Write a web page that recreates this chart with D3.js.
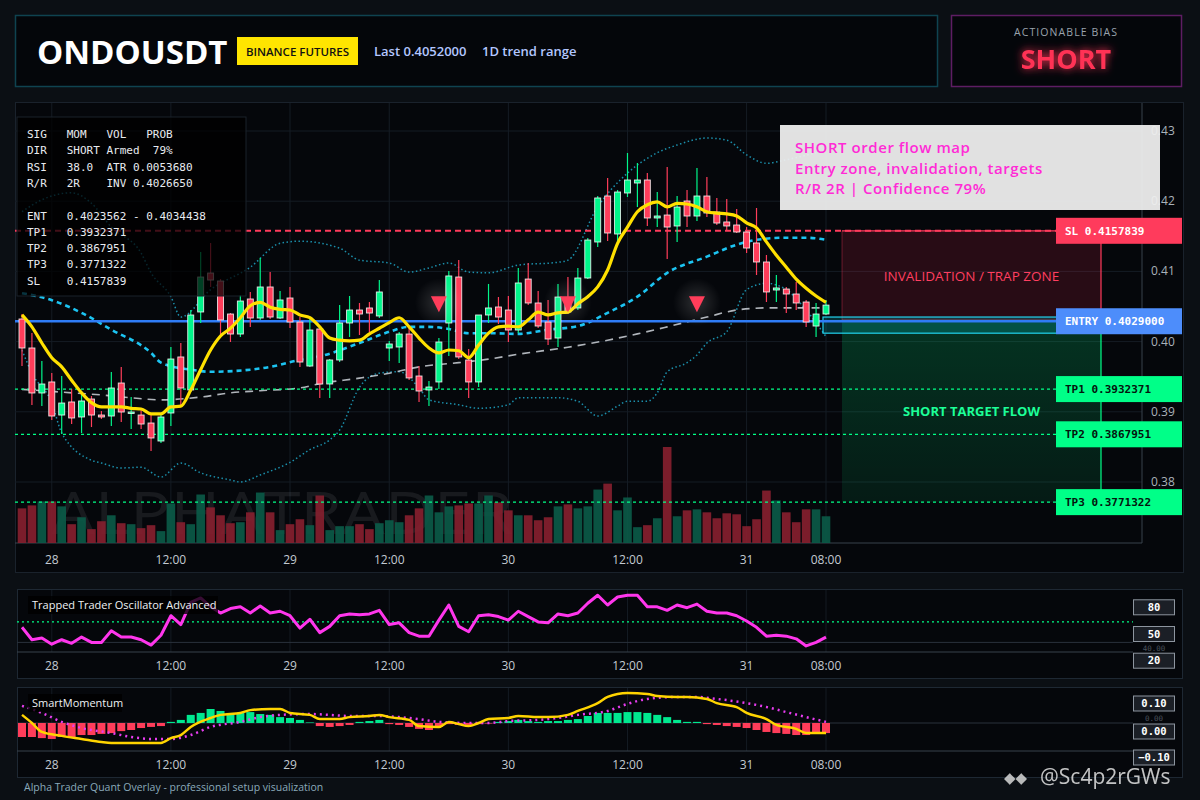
<!DOCTYPE html>
<html>
<head>
<meta charset="utf-8">
<script src="https://cdn.jsdelivr.net/npm/d3@7"></script>
<style>
  html, body { margin: 0; padding: 0; background: #0b0f14; }
  svg { display: block; }
  text { font-family: "Open Sans", "DejaVu Sans", sans-serif; }
  .mono { font-family: "DejaVu Sans Mono", monospace; }
</style>
</head>
<body>
<svg id="chart" width="1200" height="800"></svg>
<script>
// data - hourly candles, 27 21:00 -> 31 08:00
const opens = [0.40322,0.39909,0.39268,0.39425,0.38954,0.39140,0.38926,0.39182,0.38954,0.38940,
  0.39410,0.38983,0.38954,0.38840,0.38584,0.38983,0.39781,0.39311,0.40422,0.40977,
  0.40863,0.40393,0.40108,0.40607,0.40336,0.40778,0.40336,0.40621,0.40279,0.39652,
  0.40180,0.39396,0.39738,0.40265,0.40450,0.40479,0.40365,0.39909,0.39923,0.40108,
  0.39510,0.39311,0.39425,0.40265,0.40920,0.39738,0.39425,0.40379,0.40493,0.40450,
  0.40165,0.40891,0.40550,0.40279,0.40051,0.40621,0.40479,0.40906,0.41419,0.42074,
  0.41533,0.42117,0.42259,0.42302,0.41761,0.41803,0.41647,0.42003,0.41789,0.42074,
  0.41846,0.41704,0.41661,0.41561,0.41405,0.41134,0.40735,0.40749,0.40678,0.40564,
  0.40222,0.40393];
const highs = [0.40393,0.40123,0.39724,0.39553,0.39510,0.39325,0.39268,0.39225,0.39011,0.39567,
  0.39638,0.39211,0.39026,0.38969,0.38954,0.39923,0.39980,0.40450,0.41276,0.41405,
  0.40891,0.40407,0.40664,0.40707,0.41191,0.40992,0.40721,0.40778,0.40350,0.40322,
  0.40208,0.39752,0.40521,0.40650,0.40550,0.40564,0.40877,0.40009,0.40137,0.40194,
  0.39652,0.39439,0.40051,0.41006,0.41162,0.39895,0.40379,0.40821,0.40635,0.40650,
  0.41048,0.41120,0.40721,0.40593,0.40821,0.40920,0.41048,0.41476,0.42074,0.42330,
  0.42160,0.42687,0.42544,0.42402,0.42131,0.42487,0.42074,0.42160,0.42473,0.42345,
  0.42046,0.42031,0.41889,0.41632,0.41903,0.41234,0.40949,0.40778,0.40849,0.40593,
  0.40550,0.40593];
const lows = [0.39652,0.39097,0.39083,0.38883,0.38684,0.38826,0.38698,0.38783,0.38897,0.38798,
  0.38855,0.38755,0.38755,0.38442,0.38556,0.38798,0.39068,0.39282,0.40265,0.40778,
  0.40094,0.39994,0.40066,0.40208,0.40308,0.40322,0.40322,0.40194,0.39638,0.39638,
  0.39197,0.39197,0.39709,0.40066,0.40094,0.40137,0.40336,0.39724,0.39695,0.39453,
  0.39140,0.39083,0.39325,0.39795,0.39752,0.39197,0.39353,0.40265,0.40251,0.39994,
  0.40123,0.40521,0.40194,0.39952,0.39923,0.40393,0.40450,0.40891,0.41348,0.41433,
  0.41405,0.42060,0.41917,0.41647,0.41632,0.41177,0.41419,0.41632,0.41718,0.41775,
  0.41661,0.41590,0.41547,0.41262,0.40949,0.40564,0.40564,0.40407,0.40450,0.40208,
  0.40066,0.40379];
const closes = [0.39909,0.39268,0.39396,0.38940,0.39125,0.38912,0.39154,0.38954,0.38926,0.39339,
  0.38997,0.38997,0.38826,0.38627,0.38926,0.39752,0.39339,0.40379,0.40920,0.40877,
  0.40308,0.40108,0.40578,0.40336,0.40778,0.40350,0.40593,0.40279,0.39709,0.40165,
  0.39396,0.39738,0.40265,0.40450,0.40393,0.40407,0.40707,0.39966,0.40108,0.39482,
  0.39296,0.39353,0.39994,0.40935,0.39781,0.39425,0.40379,0.40479,0.40350,0.40165,
  0.40835,0.40550,0.40222,0.40037,0.40635,0.40422,0.40906,0.41447,0.42046,0.41547,
  0.42131,0.42302,0.42302,0.41761,0.41789,0.41632,0.41917,0.41789,0.42074,0.41832,
  0.41689,0.41647,0.41561,0.41333,0.41134,0.40707,0.40764,0.40678,0.40550,0.40279,
  0.40393,0.40520];
// volume, 10k contracts
const volumes = [35,38,42,42,37,19,26,14,22,28,20,19,15,18,12,40,21,19,49,36,
  28,20,21,31,51,31,13,19,24,18,48,13,17,17,19,14,20,23,21,28,
  35,48,31,37,38,40,40,48,41,33,28,28,23,26,37,39,35,37,54,60,
  33,46,16,18,25,97,27,33,34,31,25,30,29,17,24,53,43,31,21,34,
  34,27];
const ema = [0.4038,0.4021,0.3998,0.3977,0.3964,0.3945,0.3927,0.3913,0.3907,0.3907,
  0.3907,0.3905,0.3904,0.3897,0.3897,0.3907,0.3908,0.3931,0.3960,0.3988,
  0.4008,0.4019,0.4034,0.4051,0.4056,0.4049,0.4046,0.4045,0.4038,0.4034,
  0.4021,0.4005,0.4002,0.4001,0.4002,0.4011,0.4019,0.4027,0.4034,0.4021,
  0.4005,0.3991,0.3984,0.3988,0.3987,0.3977,0.3995,0.4012,0.4021,0.4022,
  0.4021,0.4031,0.4042,0.4038,0.4041,0.4042,0.4054,0.4064,0.4078,0.4102,
  0.4140,0.4163,0.4185,0.4195,0.4199,0.4192,0.4197,0.4196,0.4192,0.4185,
  0.4183,0.4182,0.4179,0.4169,0.4162,0.4142,0.4123,0.4106,0.4089,0.4076,
  0.4065,0.4056];
// [candle index, price]
const maMid = [[0,0.4069],[3,0.4059],[6,0.4041],[9,0.4017],[13,0.3984],[14,0.3970],[17,0.3960],
  [19,0.3957],[23,0.3960],[25,0.3964],[28,0.3974],[30,0.3979],[34,0.3998],[37,0.4014],
  [39,0.4021],[41,0.4021],[43,0.4018],[45,0.4012],[47,0.4012],[50,0.4011],[53,0.4017],
  [56,0.4022],[59,0.4041],[62,0.4064],[65,0.4098],[69,0.4121],[72,0.4138],[74,0.4145],
  [77,0.4148],[79,0.4148],[81,0.4145]];
const maSlow = [[0,0.3932],[4,0.3928],[8,0.3924],[11,0.3920],[14,0.3917],[18,0.3921],[21,0.3927],
  [24,0.3930],[28,0.3934],[30,0.3940],[34,0.3948],[37,0.3955],[40,0.3964],[44,0.3970],
  [47,0.3975],[50,0.3982],[55,0.3992],[59,0.4002],[62,0.4011],[65,0.4021],[69,0.4035],
  [72,0.4045],[75,0.4048],[79,0.4048],[81,0.4048]];
const bbUpper = [[0,0.4185],[2,0.4202],[5,0.4212],[7,0.4197],[9,0.4163],[12,0.4126],[13,0.4098],
  [15,0.4064],[16,0.4035],[19,0.4074],[23,0.4106],[26,0.4140],[28,0.4143],[32,0.4133],
  [34,0.4116],[37,0.4112],[39,0.4099],[41,0.4105],[43,0.4112],[45,0.4099],[47,0.4098],
  [50,0.4109],[54,0.4113],[55,0.4116],[58,0.4192],[61,0.4240],[64,0.4269],[66,0.4280],
  [69,0.4290],[71,0.4287],[73,0.4266],[75,0.4254],[77,0.4259],[81,0.4273]];
const bbLower = [[0,0.3988],[1,0.3955],[3,0.3913],[4,0.3870],[7,0.3831],[8,0.3827],[10,0.3820],
  [12,0.3821],[14,0.3807],[16,0.3827],[18,0.3813],[21,0.3803],[22,0.3800],[24,0.3810],
  [27,0.3828],[29,0.3846],[31,0.3860],[32,0.3874],[34,0.3935],[36,0.3955],[38,0.3957],
  [40,0.3934],[41,0.3917],[44,0.3910],[46,0.3905],[49,0.3910],[50,0.3920],[54,0.3920],
  [56,0.3915],[58,0.3894],[60,0.3908],[61,0.3915],[63,0.3915],[64,0.3927],[65,0.3957],
  [67,0.3970],[68,0.3981],[69,0.3998],[71,0.4014],[73,0.4074],[75,0.4083],[77,0.4074],
  [79,0.4045],[81,0.4007]];
const shortSignals = [42, 55, 68];
const signalPrice = 0.4056;

const oscValues = [57,43,45,38,43,39,46,40,40,53,46,46,43,37,48,70,60,85,90,80,
  73,78,80,73,81,73,75,70,56,66,51,58,70,72,71,72,76,60,62,51,
  47,47,65,82,58,52,70,71,69,65,75,69,63,62,72,70,73,84,93,82,
  91,93,93,80,80,76,82,79,83,75,73,73,70,64,57,47,48,47,44,36,
  40,46];
const oscLevel = 63;
const oscAxis = [80, 50, 20];

const momHist = [-0.050,-0.050,-0.054,-0.057,-0.050,-0.050,-0.043,-0.043,-0.039,-0.036,
  -0.029,-0.025,-0.018,-0.014,-0.011,0.004,0.011,0.029,0.036,0.050,
  0.043,0.036,0.036,0.039,0.032,0.029,0.021,0.018,0.011,0.002,
  -0.011,-0.014,-0.011,-0.007,0.004,0.007,0.011,-0.004,-0.007,-0.014,
  -0.021,-0.025,-0.014,-0.004,-0.007,-0.007,-0.004,-0.002,0.004,0.007,
  0.011,0.007,0.004,0.007,0.007,0.011,0.014,0.025,0.036,0.036,
  0.036,0.039,0.039,0.036,0.029,0.021,0.011,0.004,0.004,-0.004,
  -0.007,-0.011,-0.014,-0.018,-0.025,-0.032,-0.036,-0.039,-0.043,-0.043,
  -0.039,-0.036];
const momLine = [[0,0.029],[1,0.000],[2,-0.032],[4,-0.046],[6,-0.057],[8,-0.068],[9,-0.071],
  [11,-0.071],[12,-0.071],[14,-0.071],[15,-0.054],[16,-0.043],[17,-0.014],[19,0.018],
  [20,0.029],[22,0.036],[23,0.046],[25,0.050],[26,0.050],[27,0.036],[29,0.029],[30,0.014],
  [32,0.014],[33,0.021],[35,0.025],[36,0.029],[37,0.021],[39,0.011],[40,-0.011],[42,-0.014],
  [43,0.004],[44,-0.004],[45,-0.011],[46,0.000],[47,0.014],[49,0.018],[50,0.025],[52,0.021],
  [53,0.021],[55,0.029],[56,0.043],[58,0.071],[59,0.093],[61,0.107],[63,0.104],[64,0.096],
  [66,0.093],[67,0.093],[69,0.086],[70,0.071],[72,0.057],[73,0.036],[75,0.014],[76,-0.007],
  [78,-0.021],[79,-0.036],[81,-0.036]];
const momSignal = [[0,0.061],[2,0.036],[4,0.004],[6,-0.018],[9,-0.036],[11,-0.050],[13,-0.057],
  [15,-0.057],[17,-0.043],[19,-0.014],[22,0.004],[24,0.021],[26,0.029],[29,0.032],[31,0.029],
  [33,0.025],[36,0.025],[38,0.021],[40,0.014],[42,0.004],[45,0.000],[47,0.000],[49,0.007],
  [52,0.011],[54,0.018],[56,0.029],[59,0.043],[61,0.068],[63,0.086],[66,0.093],[68,0.093],
  [70,0.086],[73,0.071],[75,0.057],[77,0.039],[79,0.021],[81,0.004]];
const momAxis = [0.10, 0.00, -0.10];

const tickIdx = [3, 15, 27, 37, 49, 61, 73, 81];
const tickLabels = ["28", "12:00", "29", "12:00", "30", "12:00", "31", "08:00"];
const priceTicks = [0.43, 0.42, 0.41, 0.40, 0.39, 0.38];

const levelNames = ["SL", "ENTRY", "TP1", "TP2", "TP3"];
const levelPrices = [0.4157839, 0.4029000, 0.3932371, 0.3867951, 0.3771322];
const entryBand = [0.4012, 0.4035];

const infoLines = [
  "SIG   MOM   VOL   PROB",
  "DIR   SHORT Armed  79%",
  "RSI   38.0  ATR 0.0053680",
  "R/R   2R    INV 0.4026650",
  "",
  "ENT   0.4023562 - 0.4034438",
  "TP1   0.3932371",
  "TP2   0.3867951",
  "TP3   0.3771322",
  "SL    0.4157839"
];
const noteLines = ["SHORT order flow map", "Entry zone, invalidation, targets", "R/R 2R | Confidence 79%"];

const GREEN = '#00f58a', RED = '#ff3d5a';

// scales
const x = d3.scaleLinear().domain([0, closes.length - 1]).range([22, 826]);
const y = d3.scaleLinear().domain([0.38, 0.43]).range([482, 131]);
const yv = d3.scaleLinear().domain([0, d3.max(volumes)]).range([543, 447]);
const yo = d3.scaleLinear().domain([0, 100]).range([678, 589]);
const ym = d3.scaleLinear().domain([-0.1, 0.1]).range([751, 695]);
const plotL = 15, plotR = 1142, plotT = 103, plotB = 543;

const candles = closes.map((c, i) => ({i: i, o: opens[i], h: highs[i], l: lows[i], c: c, v: volumes[i]}));
const up = d => d.c >= d.o;

const svg = d3.select('#chart');
const defs = svg.append('defs');

const glow = defs.append('filter').attr('id', 'glowRed')
  .attr('x', '-40%').attr('y', '-60%').attr('width', '180%').attr('height', '220%');
glow.append('feGaussianBlur').attr('stdDeviation', 4).attr('result', 'b');
const fm = glow.append('feMerge');
fm.append('feMergeNode').attr('in', 'b');
fm.append('feMergeNode').attr('in', 'SourceGraphic');

const tg = defs.append('radialGradient').attr('id', 'triGlow');
tg.append('stop').attr('offset', '0%').attr('stop-color', '#ffffff').attr('stop-opacity', 0.16);
tg.append('stop').attr('offset', '100%').attr('stop-color', '#ffffff').attr('stop-opacity', 0);

const gz = defs.append('linearGradient').attr('id', 'greenZone')
  .attr('x1', 0).attr('y1', 0).attr('x2', 0).attr('y2', 1);
gz.append('stop').attr('offset', '0%').attr('stop-color', '#00ff88').attr('stop-opacity', 0.18);
gz.append('stop').attr('offset', '100%').attr('stop-color', '#00ff88').attr('stop-opacity', 0.08);

// background + panels
svg.append('rect').attr('width', 1200).attr('height', 800).attr('fill', '#0b0f14');
svg.append('rect').attr('x', 15.5).attr('y', 15.5).attr('width', 922).attr('height', 71)
  .attr('fill', '#04060a').attr('stroke', '#0f4350').attr('stroke-width', 1.5);
svg.append('rect').attr('x', 951.5).attr('y', 15.5).attr('width', 230).attr('height', 71)
  .attr('fill', '#04060a').attr('stroke', '#5e1d63').attr('stroke-width', 1.5);
svg.append('rect').attr('x', 15.5).attr('y', 102.5).attr('width', 1168).attr('height', 470)
  .attr('fill', '#05070b').attr('stroke', '#1a222c');
svg.append('rect').attr('x', 17.5).attr('y', 589.5).attr('width', 1165).attr('height', 89)
  .attr('fill', '#05070b').attr('stroke', '#1e2833');
svg.append('rect').attr('x', 17.5).attr('y', 687.5).attr('width', 1165).attr('height', 90)
  .attr('fill', '#05070b').attr('stroke', '#1e2833');

// header
svg.append('text').attr('x', 37).attr('y', 64).attr('font-size', 33).attr('font-weight', 700)
  .attr('fill', '#ffffff').text('ONDOUSDT');
svg.append('rect').attr('x', 237).attr('y', 37).attr('width', 121).attr('height', 28).attr('fill', '#ffe500');
svg.append('text').attr('x', 297.5).attr('y', 55.5).attr('text-anchor', 'middle').attr('font-size', 11.5)
  .attr('font-weight', 600).attr('fill', '#111111').text('BINANCE FUTURES');
svg.append('text').attr('x', 374).attr('y', 56).attr('font-size', 13).attr('font-weight', 600)
  .attr('fill', '#b3c6ff').text('Last ' + d3.format('.7f')(closes[closes.length - 1]));
svg.append('text').attr('x', 482).attr('y', 56).attr('font-size', 13).attr('font-weight', 600)
  .attr('fill', '#b3c6ff').text('1D trend range');
svg.append('text').attr('x', 1066).attr('y', 35.5).attr('text-anchor', 'middle').attr('font-size', 10.5)
  .attr('letter-spacing', 1.1).attr('fill', '#9aa3ad').text('ACTIONABLE BIAS');
svg.append('text').attr('x', 1066).attr('y', 69).attr('text-anchor', 'middle').attr('font-size', 27)
  .attr('font-weight', 700).attr('fill', '#ff3355').attr('filter', 'url(#glowRed)').text('SHORT');

// grid
const grid = svg.append('g').attr('stroke', '#151c24').attr('stroke-width', 1);
grid.selectAll('line.h').data(priceTicks).join('line')
  .attr('x1', plotL).attr('x2', plotR).attr('y1', d => y(d)).attr('y2', d => y(d));
grid.selectAll('line.v').data(tickIdx).join('line')
  .attr('x1', d => x(d)).attr('x2', d => x(d)).attr('y1', plotT).attr('y2', plotB);
svg.append('line').attr('x1', plotL).attr('x2', plotR).attr('y1', plotB).attr('y2', plotB).attr('stroke', '#39424d');
svg.append('line').attr('x1', plotR).attr('x2', plotR).attr('y1', plotT).attr('y2', plotB).attr('stroke', '#39424d');

// watermark + volume
svg.append('text').attr('x', 52).attr('y', 534).attr('font-family', 'Lato, sans-serif').attr('font-size', 58)
  .attr('textLength', 461).attr('lengthAdjust', 'spacingAndGlyphs')
  .attr('fill', 'rgba(255,255,255,0.08)').text('ALPHATRADER');
svg.append('g').selectAll('rect').data(candles).join('rect')
  .attr('x', d => x(d.i) - 4.3).attr('width', 8.6)
  .attr('y', d => yv(d.v)).attr('height', d => plotB - yv(d.v))
  .attr('fill', d => up(d) ? '#0b5a48' : '#86202f').attr('opacity', 0.92);

// bands and averages
const pl = d3.line().x(d => x(d[0])).y(d => y(d[1])).curve(d3.curveMonotoneX);
svg.append('path').attr('d', pl(bbUpper)).attr('fill', 'none').attr('stroke', '#1b8fab')
  .attr('stroke-width', 1.5).attr('stroke-dasharray', '1.5,2.5');
svg.append('path').attr('d', pl(bbLower)).attr('fill', 'none').attr('stroke', '#1b8fab')
  .attr('stroke-width', 1.5).attr('stroke-dasharray', '1.5,2.5');
svg.append('path').attr('d', pl(maSlow)).attr('fill', 'none').attr('stroke', '#cfd4da')
  .attr('stroke-width', 1.6).attr('stroke-dasharray', '8,6').attr('opacity', 0.85);
svg.append('path').attr('d', pl(maMid)).attr('fill', 'none').attr('stroke', '#1cc4f2')
  .attr('stroke-width', 2.6).attr('stroke-dasharray', '5,4');

// zones
const zoneL = x(closes.length - 1) + 16, zoneR = 1101;
const ySL = y(levelPrices[0]), yEn = y(levelPrices[1]), yTP3 = y(levelPrices[4]);
svg.append('rect').attr('x', zoneL).attr('y', ySL).attr('width', zoneR - zoneL).attr('height', yEn - ySL - 1)
  .attr('fill', 'rgba(255,45,85,0.14)');
svg.append('rect').attr('x', zoneL).attr('y', yEn + 1).attr('width', zoneR - zoneL).attr('height', yTP3 - yEn - 1)
  .attr('fill', 'url(#greenZone)');
svg.append('line').attr('x1', zoneL).attr('x2', zoneR).attr('y1', ySL).attr('y2', ySL).attr('stroke', '#ff3b5c').attr('stroke-width', 1.2);
svg.append('line').attr('x1', zoneL).attr('x2', zoneR).attr('y1', yEn - 1).attr('y2', yEn - 1).attr('stroke', '#ff3b5c').attr('stroke-width', 1);
svg.append('line').attr('x1', zoneL).attr('x2', zoneL).attr('y1', ySL).attr('y2', yEn).attr('stroke', 'rgba(255,59,92,0.35)');
svg.append('line').attr('x1', zoneR).attr('x2', zoneR).attr('y1', ySL).attr('y2', yEn - 1).attr('stroke', '#ff3b5c').attr('stroke-width', 1.2);
svg.append('line').attr('x1', zoneR).attr('x2', zoneR).attr('y1', yEn + 1).attr('y2', yTP3).attr('stroke', '#00ff88').attr('stroke-width', 1.2);
svg.append('rect').attr('x', x(closes.length - 1) - 3).attr('y', y(entryBand[1]))
  .attr('width', zoneR - x(closes.length - 1) + 3).attr('height', y(entryBand[0]) - y(entryBand[1]))
  .attr('fill', 'rgba(0,190,200,0.22)').attr('stroke', '#22d3ee').attr('stroke-width', 1.2);
svg.append('text').attr('x', (zoneL + zoneR) / 2).attr('y', (ySL + yEn) / 2 + 5).attr('text-anchor', 'middle')
  .attr('font-size', 13.5).attr('fill', '#ff3f60').text('INVALIDATION / TRAP ZONE');
svg.append('text').attr('x', (zoneL + zoneR) / 2).attr('y', (yEn + yTP3) / 2 + 4).attr('text-anchor', 'middle')
  .attr('font-size', 13).attr('font-weight', 700).attr('fill', '#1cff98').text('SHORT TARGET FLOW');

// level lines
const lvEnd = 1056;
levelNames.forEach(function(n, i) {
  const ly = y(levelPrices[i]);
  const ln = svg.append('line').attr('x1', plotL).attr('x2', lvEnd).attr('y1', ly).attr('y2', ly);
  if (n === 'SL') ln.attr('stroke', '#ff3b5c').attr('stroke-width', 2).attr('stroke-dasharray', '6,4');
  else if (n === 'ENTRY') ln.attr('stroke', '#2f7cf6').attr('stroke-width', 2.5);
  else ln.attr('stroke', '#00ff88').attr('stroke-width', 1.3).attr('stroke-dasharray', '3,3');
});

// candles
const cg = svg.append('g');
cg.selectAll('line').data(candles).join('line')
  .attr('x1', d => x(d.i)).attr('x2', d => x(d.i))
  .attr('y1', d => y(d.h)).attr('y2', d => y(d.l))
  .attr('stroke', d => up(d) ? GREEN : RED).attr('stroke-width', 1.2);
cg.selectAll('rect').data(candles).join('rect')
  .attr('x', d => x(d.i) - 3).attr('width', 6)
  .attr('y', d => y(Math.max(d.o, d.c)))
  .attr('height', d => Math.max(1.5, Math.abs(y(d.o) - y(d.c))))
  .attr('fill', d => up(d) ? GREEN : RED)
  .attr('stroke', 'rgba(255,255,255,0.85)').attr('stroke-width', 0.9);

// ema
svg.append('path').attr('d', d3.line().x((d, i) => x(i)).y(d => y(d)).curve(d3.curveMonotoneX)(ema))
  .attr('fill', 'none').attr('stroke', '#ffe000').attr('stroke-width', 3.2).attr('stroke-linejoin', 'round');

// short signals
svg.append('g').selectAll('circle').data(shortSignals).join('circle')
  .attr('cx', d => x(d)).attr('cy', y(signalPrice)).attr('r', 24).attr('fill', 'url(#triGlow)');
svg.append('g').selectAll('path').data(shortSignals).join('path')
  .attr('d', function(d) {
    const cx = x(d), cy = y(signalPrice);
    return 'M' + (cx - 8) + ',' + (cy - 6) + 'L' + (cx + 8) + ',' + (cy - 6) + 'L' + cx + ',' + (cy + 10) + 'Z';
  })
  .attr('fill', '#ff3d5a');

// info panel
svg.append('rect').attr('x', 17).attr('y', 117).attr('width', 229).attr('height', 179)
  .attr('fill', 'rgba(0,0,0,0.74)').attr('stroke', '#1b222b');
svg.append('g').selectAll('text').data(infoLines).join('text')
  .attr('class', 'mono').attr('x', 27).attr('y', (d, i) => 138 + i * 16.3)
  .attr('font-size', 11).attr('fill', '#e8ebf0')
  .attr('xml:space', 'preserve').style('white-space', 'pre').text(d => d);

// price axis
svg.append('g').selectAll('text').data(priceTicks).join('text')
  .attr('x', 1151).attr('y', d => y(d) + 4).attr('font-size', 12).attr('fill', '#a9b1b9')
  .text(d => d3.format('.2f')(d));

// note box
svg.append('rect').attr('x', 780).attr('y', 125).attr('width', 380).attr('height', 85)
  .attr('fill', '#efefef').attr('opacity', 0.94);
svg.append('g').selectAll('text').data(noteLines).join('text')
  .attr('x', 795).attr('y', (d, i) => 153 + i * 20.5).attr('font-size', 15).attr('font-weight', 600)
  .attr('letter-spacing', 0.55).attr('fill', '#ff2bd6').text(d => d);

// level labels
levelNames.forEach(function(n, i) {
  const ly = y(levelPrices[i]);
  const col = n === 'SL' ? '#ff3b5c' : (n === 'ENTRY' ? '#4d8dfb' : '#00ff88');
  svg.append('rect').attr('x', 1056).attr('y', ly - 13).attr('width', 126).attr('height', 26).attr('fill', col);
  svg.append('text').attr('class', 'mono').attr('x', 1065).attr('y', ly + 4).attr('font-size', 11)
    .attr('font-weight', 700).attr('fill', n === 'SL' || n === 'ENTRY' ? '#ffffff' : '#04140d')
    .text(n + ' ' + d3.format('.7f')(levelPrices[i]));
});

// time axes
function timeAxis(ty, y0, y1) {
  svg.append('g').selectAll('line').data(tickIdx).join('line')
    .attr('x1', d => x(d)).attr('x2', d => x(d)).attr('y1', y0).attr('y2', y1)
    .attr('stroke', '#141b23');
  svg.append('g').selectAll('text').data(tickIdx).join('text')
    .attr('x', d => x(d)).attr('y', ty).attr('text-anchor', 'middle').attr('font-size', 12)
    .attr('fill', '#c3cad2').text((d, i) => tickLabels[i]);
}
timeAxis(564, plotB, plotB);

// oscillator panel
timeAxis(670, 590, 652);
svg.append('line').attr('x1', 17).attr('x2', 1133).attr('y1', yo(40)).attr('y2', yo(40)).attr('stroke', '#2a323c');
svg.append('line').attr('x1', 17).attr('x2', 1133).attr('y1', 652).attr('y2', 652).attr('stroke', '#39424d');
svg.append('line').attr('x1', 17).attr('x2', 1133).attr('y1', yo(oscLevel)).attr('y2', yo(oscLevel))
  .attr('stroke', '#00ff88').attr('stroke-width', 1.2).attr('stroke-dasharray', '2,3');
svg.append('path').attr('d', d3.line().x((d, i) => x(i)).y(d => yo(d))(oscValues))
  .attr('fill', 'none').attr('stroke', '#ff36ec').attr('stroke-width', 3).attr('stroke-linejoin', 'round');
svg.append('rect').attr('x', 28).attr('y', 596).attr('width', 190).attr('height', 18).attr('fill', 'rgba(0,0,0,0.78)');
svg.append('text').attr('x', 32).attr('y', 609).attr('font-size', 11).attr('fill', '#eef1f4')
  .text('Trapped Trader Oscillator Advanced');
svg.append('text').attr('class', 'mono').attr('x', 1154).attr('y', 651).attr('text-anchor', 'middle')
  .attr('font-size', 7.5).attr('fill', '#4a525c').text('40.00');
oscAxis.forEach(function(v) {
  svg.append('rect').attr('x', 1133.5).attr('y', yo(v) - 7).attr('width', 41).attr('height', 15)
    .attr('fill', '#1b1f26').attr('stroke', '#8d959f');
  svg.append('text').attr('class', 'mono').attr('x', 1154).attr('y', yo(v) + 4).attr('text-anchor', 'middle')
    .attr('font-size', 10.5).attr('font-weight', 700).attr('fill', '#ffffff').text(v);
});

// momentum panel
timeAxis(769, 688, 751);
svg.append('line').attr('x1', 17).attr('x2', 1133).attr('y1', ym(0)).attr('y2', ym(0)).attr('stroke', '#2a323c');
svg.append('line').attr('x1', 17).attr('x2', 1133).attr('y1', 751).attr('y2', 751).attr('stroke', '#39424d');
svg.append('g').selectAll('rect').data(momHist).join('rect')
  .attr('x', (d, i) => x(i) - 4).attr('width', 8)
  .attr('y', d => Math.min(ym(0), ym(d))).attr('height', d => Math.abs(ym(d) - ym(0)))
  .attr('fill', d => d >= 0 ? '#00e88f' : '#ff3d5a');
const ml = d3.line().x(d => x(d[0])).y(d => ym(d[1])).curve(d3.curveMonotoneX);
svg.append('path').attr('d', ml(momSignal)).attr('fill', 'none').attr('stroke', '#e83cf0')
  .attr('stroke-width', 2.5).attr('stroke-dasharray', '2,4');
svg.append('path').attr('d', ml(momLine)).attr('fill', 'none').attr('stroke', '#ffd400').attr('stroke-width', 2.5);
svg.append('rect').attr('x', 28).attr('y', 694).attr('width', 94).attr('height', 18).attr('fill', 'rgba(0,0,0,0.78)');
svg.append('text').attr('x', 32).attr('y', 707).attr('font-size', 11).attr('fill', '#eef1f4').text('SmartMomentum');
svg.append('text').attr('class', 'mono').attr('x', 1154).attr('y', 720.5).attr('text-anchor', 'middle')
  .attr('font-size', 7.5).attr('fill', '#4a525c').text('0.00');
momAxis.forEach(function(v) {
  const by = Math.min(ym(v) + 8, 757);
  svg.append('rect').attr('x', 1133.5).attr('y', by - 7).attr('width', 41).attr('height', 15)
    .attr('fill', '#1b1f26').attr('stroke', '#8d959f');
  svg.append('text').attr('class', 'mono').attr('x', 1154).attr('y', by + 4).attr('text-anchor', 'middle')
    .attr('font-size', 10.5).attr('font-weight', 700).attr('fill', '#ffffff').text(d3.format('.2f')(v));
});

// footer
svg.append('text').attr('x', 24).attr('y', 791).attr('font-size', 10.5).attr('fill', '#8aaabb')
  .text('Alpha Trader Quant Overlay - professional setup visualization');
svg.append('text').attr('x', 1004).attr('y', 783).attr('font-size', 15).attr('fill', '#d8d8d8').attr('opacity', 0.85).text('◆◆');
svg.append('text').attr('x', 1040).attr('y', 784).attr('font-size', 21).attr('fill', '#e4e4e4').attr('opacity', 0.85).text('@Sc4p2rGWs');
</script>
</body>
</html>
